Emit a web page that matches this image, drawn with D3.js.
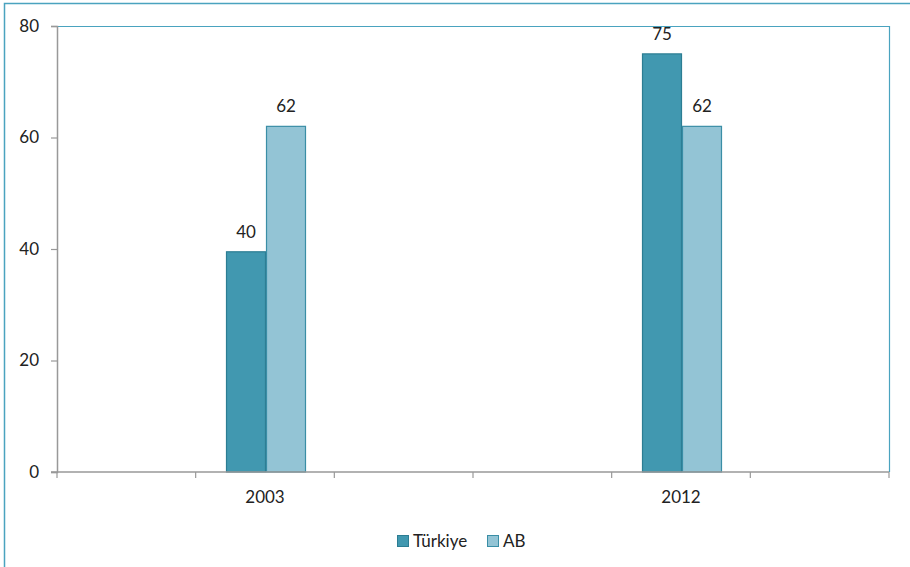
<!DOCTYPE html>
<html lang="tr">
<head>
  <meta charset="utf-8">
  <title>Türkiye - AB</title>
  <script src="https://d3js.org/d3.v7.min.js"></script>
  <style>
    body { margin: 0; background: #fff; }
    text { font-family: Lato, "Open Sans", sans-serif; fill: #222; }
  </style>
</head>
<body>
  <div id="chart"></div>
  <script>
    // categories (blank slots keep the spacing of the original axis)
    var categories = ["", "2003", "", "", "2012", ""];
    var turkiye = [null, 39.5, null, null, 75, null];
    var ab = [null, 62, null, null, 62, null];
    var seriesNames = ["Türkiye", "AB"];
    var yTicks = [0, 20, 40, 60, 80];

    var width = 910, height = 567;
    var mLeft = 57, mRight = 889, mTop = 26, mBottom = 472;
    var fills = ["#4198b0", "#93c4d5"];
    var strokes = ["#2c7d93", "#3a8ea6"];
    var fs = 17;

    var svg = d3.select("#chart").append("svg")
      .attr("width", width)
      .attr("height", height);

    // outer frame
    svg.append("path")
      .attr("d", "M4.5," + height + "V3.5H" + width)
      .attr("fill", "none")
      .attr("stroke", "#4aa3bf")
      .attr("stroke-width", 1.5);

    var x = d3.scaleBand().domain(d3.range(categories.length)).range([mLeft, mRight]);
    var y = d3.scaleLinear().domain([0, 80]).range([mBottom, mTop]);

    // plot area border (top + right)
    svg.append("path")
      .attr("d", "M" + mLeft + "," + (mTop + 0.5) + "H" + (mRight + 0.5) + "V" + mBottom)
      .attr("fill", "none")
      .attr("stroke", "#4aa3bf")
      .attr("stroke-width", 1.2);

    var barW = 40;
    var data = [turkiye, ab];
    data.forEach(function (vals, s) {
      var g = svg.append("g");
      vals.forEach(function (v, i) {
        if (v == null) return;
        var cx = x(i) + x.bandwidth() / 2 + 1;
        var bx = cx - barW + s * barW;
        g.append("rect")
          .attr("x", bx + 0.5)
          .attr("y", y(v))
          .attr("width", barW - 1)
          .attr("height", mBottom - y(v))
          .attr("fill", fills[s])
          .attr("stroke", strokes[s])
          .attr("stroke-width", 1.2);
        g.append("text")
          .attr("x", bx + barW / 2)
          .attr("y", y(v) - 14)
          .attr("text-anchor", "middle")
          .attr("font-size", fs)
          .text(Math.round(v));
      });
    });

    // y axis
    var yAxis = svg.append("g")
      .attr("transform", "translate(" + mLeft + ",0)")
      .call(d3.axisLeft(y).tickValues(yTicks).tickSize(6).tickPadding(12));
    yAxis.select(".domain").attr("stroke", "#999").attr("stroke-width", 1.5);
    yAxis.selectAll(".tick line").attr("stroke", "#999").attr("stroke-width", 1.2);
    yAxis.selectAll(".tick text").attr("font-size", fs).attr("fill", "#222")
      .attr("font-family", "Lato, 'Open Sans', sans-serif");

    // x axis: ticks at category boundaries
    var bounds = d3.range(categories.length + 1).map(function (i) {
      return mLeft + i * x.step();
    });
    svg.append("line")
      .attr("x1", mLeft - 6).attr("x2", mRight)
      .attr("y1", mBottom).attr("y2", mBottom)
      .attr("stroke", "#999").attr("stroke-width", 1.5);
    svg.selectAll(".xtick").data(bounds).enter().append("line")
      .attr("x1", function (d) { return d; })
      .attr("x2", function (d) { return d; })
      .attr("y1", mBottom).attr("y2", mBottom + 6)
      .attr("stroke", "#999").attr("stroke-width", 1.2);
    svg.selectAll(".xlabel").data(categories).enter().append("text")
      .attr("x", function (d, i) { return x(i) + x.bandwidth() / 2; })
      .attr("y", 503)
      .attr("text-anchor", "middle")
      .attr("font-size", fs)
      .text(function (d) { return d; });

    // legend
    var leg = svg.append("g");
    var lx = [397, 487];
    seriesNames.forEach(function (n, s) {
      leg.append("rect")
        .attr("x", lx[s] + 0.5).attr("y", 535.5)
        .attr("width", 11).attr("height", 11)
        .attr("fill", fills[s]).attr("stroke", strokes[s]);
      leg.append("text")
        .attr("x", lx[s] + 16).attr("y", 547)
        .attr("font-size", fs)
        .text(n);
    });
  </script>
</body>
</html>
